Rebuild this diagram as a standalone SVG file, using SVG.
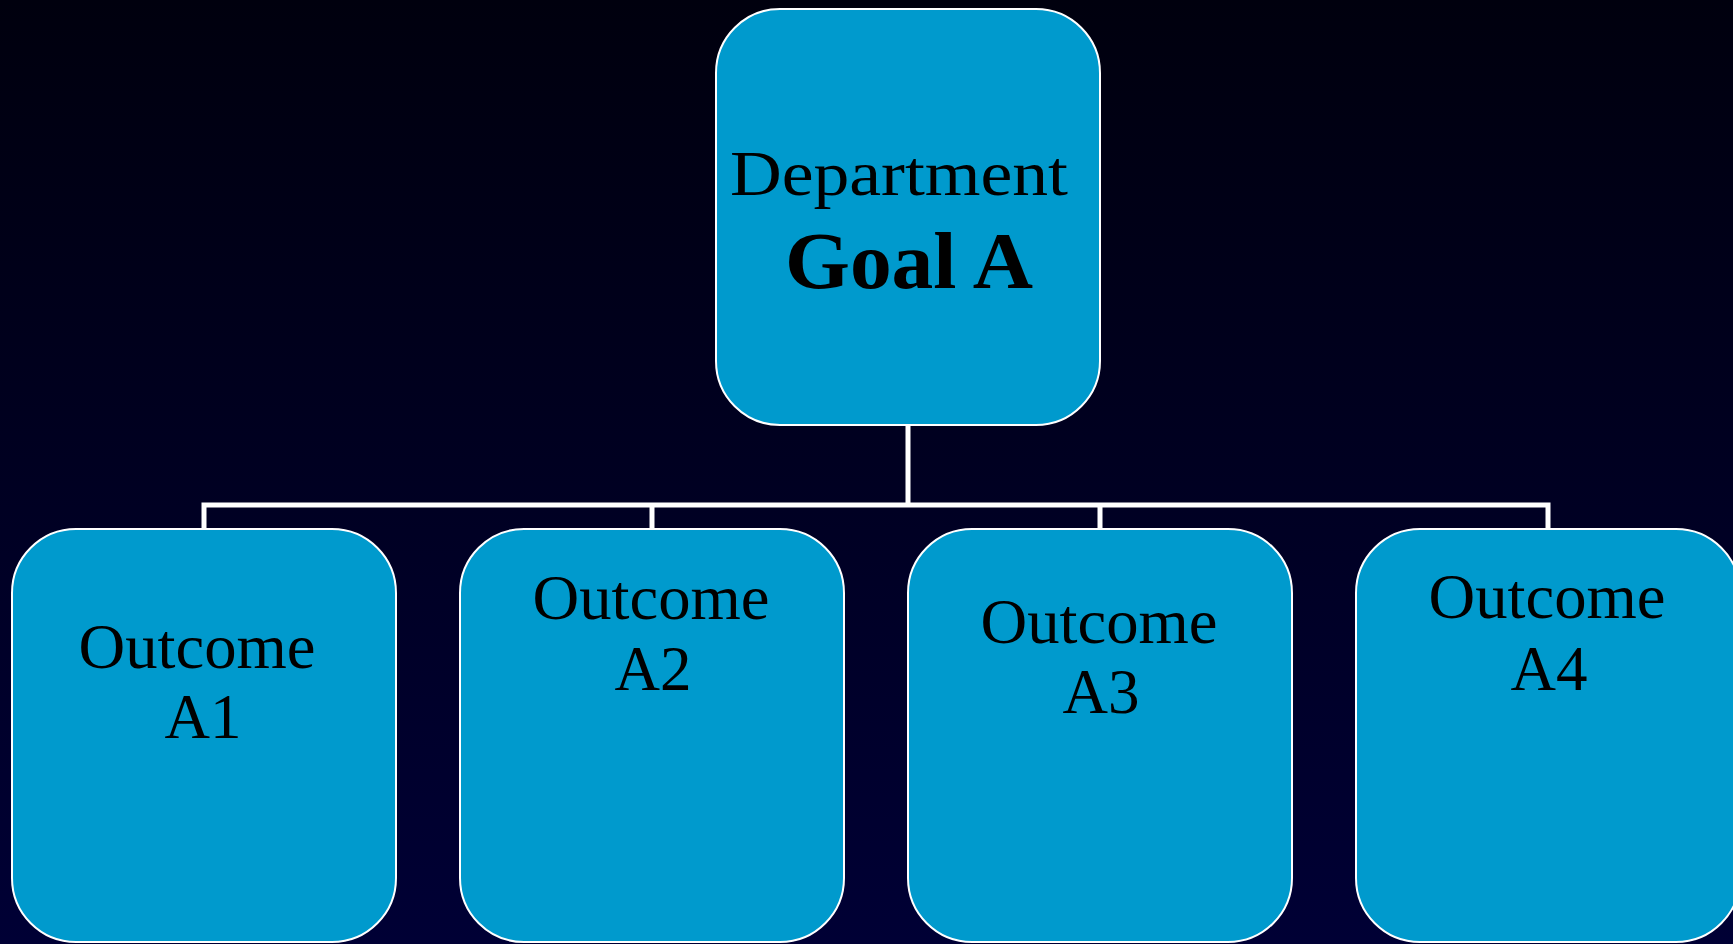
<svg xmlns="http://www.w3.org/2000/svg" width="1733" height="944" viewBox="0 0 1733 944">
<defs>
<linearGradient id="bg" x1="0" y1="0" x2="0" y2="1">
<stop offset="0" stop-color="#00000e"/>
<stop offset="1" stop-color="#000035"/>
</linearGradient>
<style>
.box{fill:#009ACD;stroke:#ffffff;stroke-width:2}
.t{font-family:"Liberation Serif","Times New Roman",serif;fill:#000000;text-anchor:middle}
.o{font-size:63px}
.conn{fill:none;stroke:#ffffff;stroke-width:5}
</style>
</defs>
<rect x="0" y="0" width="1733" height="944" fill="url(#bg)"/>
<g id="connectors">
<path class="conn" d="M908,425 V505 M204,529 V505 H1548 V529 M652,505 V529 M1100,505 V529"/>
</g>
<g id="goal">
<rect class="box" x="716" y="9" width="384" height="416" rx="64" ry="64"/>
<text class="t" x="899" y="195" font-size="64" textLength="338" lengthAdjust="spacingAndGlyphs">Department</text>
<text class="t" x="909" y="288" font-size="81" font-weight="bold" textLength="248" lengthAdjust="spacingAndGlyphs">Goal A</text>
</g>
<g id="a1">
<rect class="box" x="12" y="529" width="384" height="413" rx="64" ry="64"/>
<text class="t o" x="197" y="668" textLength="237" lengthAdjust="spacingAndGlyphs">Outcome</text>
<text class="t o" x="203" y="738">A1</text>
</g>
<g id="a2">
<rect class="box" x="460" y="529" width="384" height="413" rx="64" ry="64"/>
<text class="t o" x="651" y="619" textLength="237" lengthAdjust="spacingAndGlyphs">Outcome</text>
<text class="t o" x="653" y="690">A2</text>
</g>
<g id="a3">
<rect class="box" x="908" y="529" width="384" height="413" rx="64" ry="64"/>
<text class="t o" x="1099" y="643" textLength="237" lengthAdjust="spacingAndGlyphs">Outcome</text>
<text class="t o" x="1101" y="713">A3</text>
</g>
<g id="a4">
<rect class="box" x="1356" y="529" width="384" height="413" rx="64" ry="64"/>
<text class="t o" x="1547" y="618" textLength="237" lengthAdjust="spacingAndGlyphs">Outcome</text>
<text class="t o" x="1549" y="690">A4</text>
</g>
</svg>
